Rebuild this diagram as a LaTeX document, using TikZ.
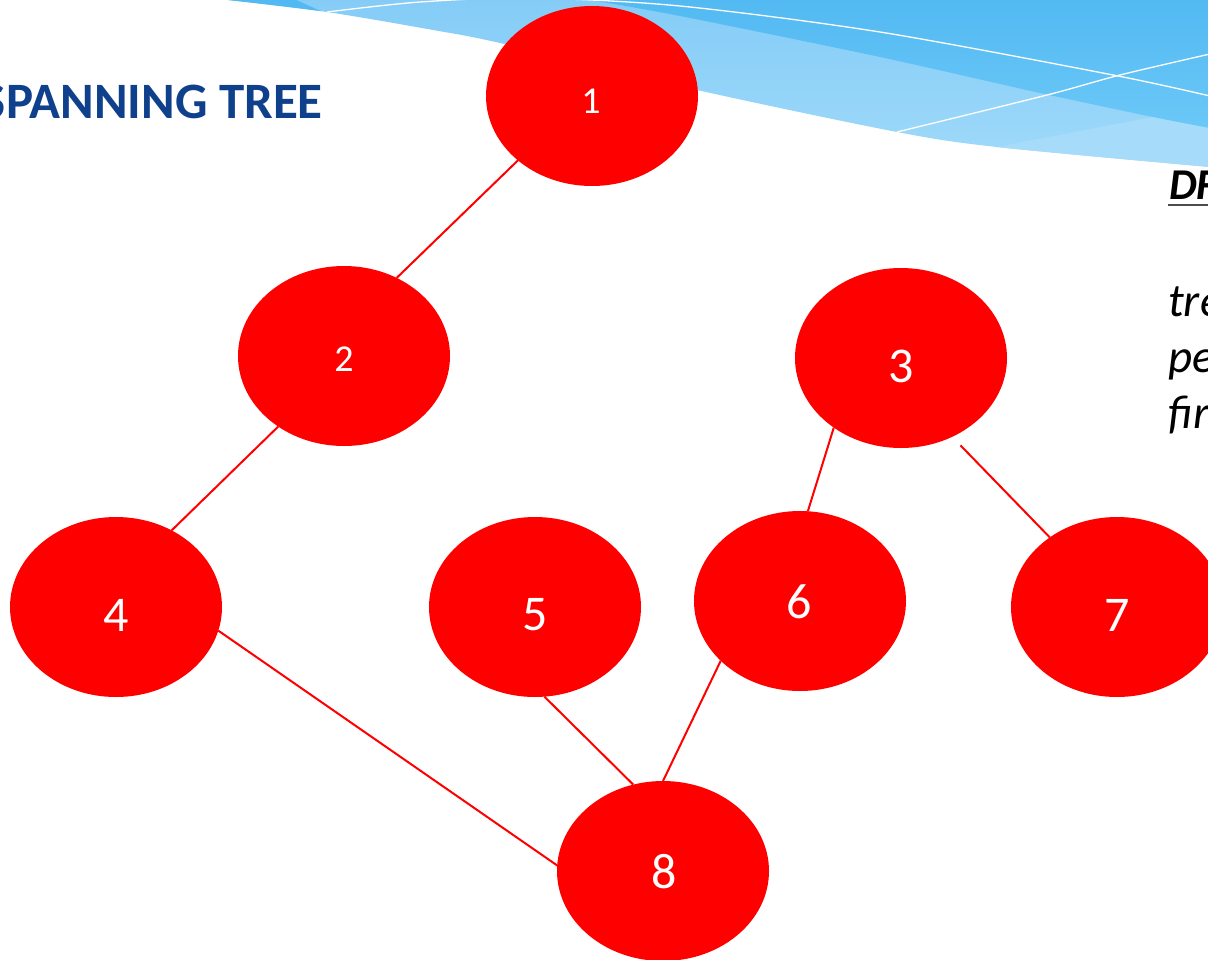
\documentclass[tikz,border=0pt]{standalone}
\usepackage{fontspec}
\setmainfont{Carlito}
\usetikzlibrary{shapes.geometric}
\definecolor{waveDarkTop}{HTML}{52B9F2}
\definecolor{waveDarkBot}{HTML}{6BC8F7}
\definecolor{waveLightTop}{HTML}{84CCF7}
\definecolor{waveLightBot}{HTML}{A0DAFA}
\definecolor{waveLightest}{HTML}{A6DCFA}
\definecolor{titleBlue}{HTML}{0E408C}
\begin{document}
\begin{tikzpicture}[x=1pt,y=-1pt,
  vertex/.style={ellipse, fill=red, draw=none, minimum width=212pt,
    minimum height=180pt, inner sep=0pt, outer sep=0pt},
  numbig/.style={text=white, font=\fontsize{50}{60}\selectfont, inner sep=0pt},
  numsmall/.style={text=white, font=\fontsize{38}{46}\selectfont, inner sep=0pt},
  treeedge/.style={draw=red, line width=2pt},
  wavesplit/.style={draw=white, line width=1.3pt},
  bodytext/.style={font=\fontsize{47}{56}\selectfont\itshape, inner sep=0pt, anchor=base west}]
\useasboundingbox (0,0) rectangle (1208,959);
\clip (0,0) rectangle (1208,959);
\fill[white] (0,0) rectangle (1208,959);

% decorative wave band along the top edge
\begin{scope}
  \clip (1210,-2) -- (228,-2) -- plot[smooth] coordinates
    {(228,0) (327,12) (433,30) (500,43) (697,90) (897,132) (997,147) (1210,167)} -- cycle;
  \shade[top color=waveLightTop, bottom color=waveLightBot] (190,-2) rectangle (1210,170);
  \fill[waveLightest] plot[smooth] coordinates {(997,147) (1080,131) (1153,117) (1210,106)}
    -- (1210,175) -- (990,175) -- cycle;
  \shade[top color=waveDarkTop, bottom color=waveDarkBot] (540,-2) -- plot[smooth] coordinates
    {(590,0) (680,16) (880,57) (1040,93) (1153,117) (1210,128)} -- (1210,-2) -- cycle;
  \fill[waveDarkTop] (190,-2) -- (327,14) -- (292,-2) -- cycle;
  \draw[wavesplit] plot[smooth] coordinates
    {(327,12) (420,2) (530,-2) (680,6) (880,32) (1113,75) (1210,96)};
  \draw[wavesplit] plot[smooth] coordinates
    {(897,132) (1047,95) (1120,75) (1210,54)};
\end{scope}

% heading and side text
\node[font=\fontsize{51}{60}\selectfont\bfseries, text=titleBlue, inner sep=0pt,
  anchor=base east] (title) at (323,118) {SPANNING TREE};
\node[font=\fontsize{44}{52}\selectfont\bfseries\itshape, inner sep=0pt,
  anchor=base west] (dfs) at (1169,199) {DF};
\draw[draw=black!70, line width=1.5pt] (1168,205) -- (1210,205);
\node[bodytext] (line1) at (1168,316) {tre};
\node[bodytext] (line2) at (1168,372) {pe};
\node[bodytext] (line3) at (1168,428) {fir};

% tree vertices
\node[vertex] (n1) at (592,96) {};
\node[vertex] (n2) at (344,356) {};
\node[vertex] (n3) at (901,358) {};
\node[vertex] (n4) at (116,607) {};
\node[vertex] (n5) at (535,607) {};
\node[vertex] (n6) at (800,601) {};
\node[vertex] (n7) at (1117,607) {};
\node[vertex] (n8) at (663,871) {};

% tree edges
\draw[treeedge] (n1.221) -- (n2.56);
\draw[treeedge] (n2.227) -- (n4.54);
\draw[treeedge] (n4.347) -- (n8.177);
\draw[treeedge] (n5.276) -- (n8.109);
\draw[treeedge] (n6.217) -- (n8.90);
\draw[treeedge] (n3.226) -- (n6.85);
\draw[treeedge, shorten <=12pt] (n3.303) -- (n7.134);

% vertex labels
\node[numsmall] (l1) at (591,101) {1};
\node[numsmall] (l2) at (344,359) {2};
\node[numbig] (l3) at (901,366) {3};
\node[numbig] (l4) at (116,615) {4};
\node[numbig] (l5) at (535,615) {5};
\node[numbig] (l6) at (799,602) {6};
\node[numbig] (l7) at (1117,615) {7};
\node[numbig] (l8) at (664,872) {8};
\end{tikzpicture}
\end{document}
